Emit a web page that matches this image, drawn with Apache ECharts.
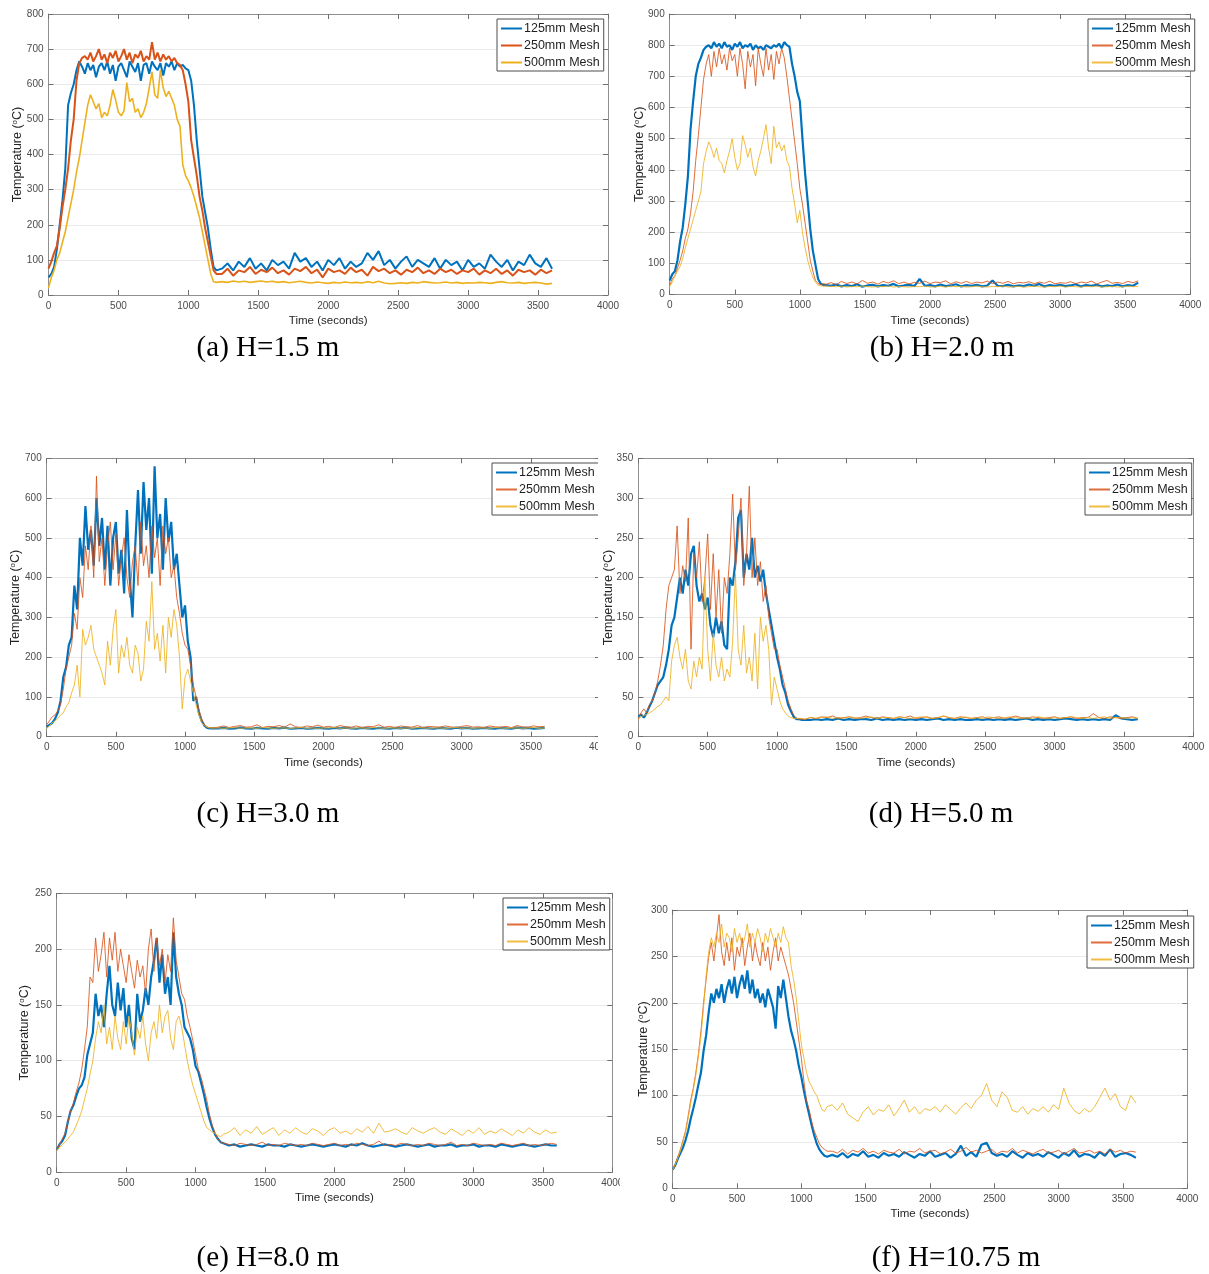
<!DOCTYPE html>
<html>
<head>
<meta charset="utf-8">
<title>Temperature histories at six heights</title>
<script src="https://cdn.jsdelivr.net/npm/echarts@6/dist/echarts.min.js"></script>
<style>
  html, body { margin: 0; padding: 0; background: #fff; }
  body { width: 1209px; height: 1274px; position: relative; overflow: hidden; }
  .panel { position: absolute; overflow: hidden; }
</style>
</head>
<body>
<div id="pa" class="panel"></div>
<div id="pb" class="panel"></div>
<div id="pc" class="panel"></div>
<div id="pd" class="panel"></div>
<div id="pe" class="panel"></div>
<div id="pf" class="panel"></div>
<script>
// ---- sample times (s): 20 s steps during the fire, 40 s steps in the cooling tail ----
const TIME_HEAD = [
  0,20,40,60,80,100,120,140,160,180,
  200,220,240,260,280,300,320,340,360,380,
  400,420,440,460,480,500,520,540,560,580,
  600,620,640,660,680,700,720,740,760,780,
  800,820,840,860,880,900,920,940,960,980,
  1000,1020,1040,1060,1080,1100,1120,1140,1160,1180,
  1200];
const TIME_TAIL = [
  1240,1280,1320,1360,1400,1440,1480,1520,1560,1600,
  1640,1680,1720,1760,1800,1840,1880,1920,1960,2000,
  2040,2080,2120,2160,2200,2240,2280,2320,2360,2400,
  2440,2480,2520,2560,2600,2640,2680,2720,2760,2800,
  2840,2880,2920,2960,3000,3040,3080,3120,3160,3200,
  3240,3280,3320,3360,3400,3440,3480,3520,3560,3600];

const SERIES_NAMES = ['125mm Mesh', '250mm Mesh', '500mm Mesh'];
const X_TICKS = { min: 0, max: 4000, step: 500 };

// ---- H = 1.5 m ----
const A_125_HEAD = [50,60,80,130,200,270,360,540,575,600,640,665,650,630,660,640,655,620,650,660,640,665,630,655,610,650,660,640,620,665,650,635,660,610,655,660,630,665,650,640,660,625,660,650,665,640,660,650,655,645,640,610,540,440,360,280,235,190,130,80,70];
const A_125_TAIL = [75,90,70,95,80,105,75,90,70,100,85,95,75,120,95,105,80,95,70,100,85,105,75,95,80,90,120,100,125,85,100,75,95,110,80,100,90,80,105,75,100,85,95,70,100,80,90,75,115,95,80,100,70,95,85,115,90,80,105,75];
const A_250_HEAD = [75,95,120,140,190,250,300,360,440,500,610,660,675,680,670,690,665,680,700,670,685,660,690,675,695,665,680,700,670,690,660,685,675,695,665,680,670,720,670,690,665,685,670,680,665,675,660,655,640,600,550,440,390,340,280,240,190,150,110,70,60];
const A_250_TAIL = [60,75,55,70,65,80,60,72,65,78,62,70,58,75,68,80,62,72,50,75,65,70,60,78,65,72,55,80,68,75,62,70,58,72,65,78,62,70,60,75,65,72,60,70,65,75,58,70,62,75,60,70,55,72,65,70,58,72,62,70];
const A_500_HEAD = [20,50,70,100,120,150,180,220,260,300,350,390,440,490,540,570,550,530,545,505,520,510,540,585,555,520,510,525,605,550,560,520,530,505,520,545,590,635,570,560,640,590,565,580,560,540,500,480,370,340,325,305,280,250,220,180,140,100,60,38,36];
const A_500_TAIL = [38,36,40,37,39,36,38,40,37,39,36,38,35,37,39,36,34,37,35,33,36,34,37,35,36,34,38,35,39,34,32,33,35,33,36,34,38,36,34,35,37,34,36,33,35,34,36,35,33,36,38,35,34,36,33,35,36,34,31,33];

// ---- H = 2.0 m ----
const B_125_HEAD = [45,65,75,110,170,215,290,380,530,620,700,740,760,785,795,800,790,810,795,805,790,810,795,800,785,805,795,810,790,800,795,805,785,800,790,795,785,800,795,790,800,795,805,790,810,800,795,740,700,650,620,500,390,300,210,140,95,50,35,30,30];
const B_125_TAIL = [28,32,26,30,27,33,25,29,31,26,30,28,34,26,29,31,27,50,28,30,26,32,27,29,33,26,30,28,31,26,29,45,28,27,31,26,29,27,32,28,34,26,30,28,31,27,29,33,26,30,28,31,26,29,27,32,26,30,28,38];
const B_250_HEAD = [30,50,60,85,110,140,180,210,260,330,430,510,600,690,740,770,700,780,730,790,740,770,720,790,750,770,700,790,740,660,780,730,770,670,790,740,700,790,720,770,690,780,740,790,760,700,630,560,490,420,340,290,230,170,110,75,45,35,32,35,33];
const B_250_TAIL = [38,32,42,35,40,34,45,36,40,33,42,37,44,35,40,34,39,36,43,35,40,38,44,34,41,36,42,35,40,37,43,35,40,36,42,34,39,37,41,35,40,36,43,34,38,36,41,35,40,37,43,34,40,45,36,39,35,42,38,44];
const B_500_HEAD = [25,40,60,75,90,115,150,180,210,240,270,300,330,420,460,490,470,440,470,430,420,390,430,460,500,440,400,420,510,480,440,470,410,380,430,460,500,545,470,420,540,470,490,460,480,430,410,340,290,230,270,200,150,110,80,55,40,30,28,27,27];
const B_500_TAIL = [26,25,27,24,26,25,27,25,24,26,25,27,24,26,25,24,26,25,27,24,25,26,24,27,25,26,24,25,27,25,24,26,25,27,24,25,26,24,25,27,25,24,26,25,27,24,26,25,24,26,25,27,24,25,26,24,25,27,25,26];

// ---- H = 3.0 m ----
const C_125_HEAD = [25,30,35,45,60,90,150,175,230,250,380,320,500,430,580,470,520,430,600,480,550,420,530,380,500,540,410,470,360,570,400,300,480,620,460,640,520,600,410,680,500,560,420,600,490,540,420,460,380,300,330,240,200,90,100,60,40,28,22,21,21];
const C_125_TAIL = [21,22,20,21,23,21,20,22,21,20,22,21,23,20,21,22,20,21,22,21,20,22,21,23,21,20,22,21,20,22,21,20,22,21,23,20,21,22,21,20,22,21,20,23,21,22,20,21,22,21,20,22,21,20,23,21,22,20,21,22];
const C_250_HEAD = [30,40,50,55,65,80,120,170,200,230,310,270,400,350,480,420,530,400,655,440,500,380,480,540,420,510,380,450,500,400,350,440,480,380,540,430,480,400,530,450,500,380,530,460,500,400,430,350,310,260,230,220,180,130,100,70,45,30,24,23,22];
const C_250_TAIL = [24,27,23,26,28,24,25,30,23,26,25,28,24,32,25,23,27,25,29,24,26,23,28,25,24,27,23,26,25,30,24,26,23,27,25,24,28,23,26,25,24,27,25,23,26,28,24,25,23,27,25,24,26,23,28,25,24,27,25,26];
const C_500_HEAD = [20,28,35,40,45,55,60,75,85,110,130,180,100,270,230,250,280,220,200,180,160,130,240,180,270,320,160,230,200,250,180,160,230,210,140,170,290,240,390,220,260,190,280,160,300,250,320,280,200,70,150,170,140,110,80,55,35,28,24,22,22];
const C_500_TAIL = [22,21,22,23,21,22,22,21,23,22,21,22,22,21,22,23,21,22,21,22,22,23,21,22,21,22,22,21,23,22,21,22,22,21,22,21,23,22,21,22,22,21,22,23,21,22,21,22,22,21,23,22,21,22,22,21,22,23,21,22];

// ---- H = 5.0 m ----
const D_125_HEAD = [25,28,24,30,38,45,55,65,70,75,90,110,140,150,175,200,180,210,190,230,240,190,170,180,160,175,140,125,150,130,145,115,110,200,190,220,275,285,200,230,210,250,200,215,195,210,180,160,140,120,100,85,65,55,40,32,25,22,22,21,21];
const D_125_TAIL = [21,22,21,22,21,23,21,22,21,22,22,21,23,21,22,21,22,21,22,21,22,21,22,23,21,22,21,22,21,21,22,21,22,21,22,21,22,21,22,23,21,22,21,22,21,22,23,22,21,22,21,22,21,22,21,27,23,22,21,22];
const D_250_HEAD = [22,30,35,30,40,45,55,70,90,115,160,190,200,210,265,180,215,195,275,110,230,200,245,170,200,255,160,230,150,210,130,200,180,230,305,210,250,300,190,230,315,200,250,190,220,170,190,150,130,110,110,90,75,60,45,35,27,23,22,22,22];
const D_250_TAIL = [24,23,25,24,26,23,24,25,23,24,26,24,23,25,24,23,25,24,26,23,24,25,23,24,26,24,23,25,24,23,24,25,23,24,25,23,24,26,24,23,25,24,23,24,25,23,24,25,23,24,24,29,24,23,25,24,23,24,25,23];
const D_500_HEAD = [22,25,27,28,30,32,35,38,40,45,50,45,95,115,125,100,85,110,70,60,95,75,100,85,200,110,70,130,90,75,100,70,85,75,120,205,110,90,140,80,100,70,130,60,150,120,140,110,40,75,60,45,35,30,26,24,23,23,23,23,22];
const D_500_TAIL = [24,23,24,25,23,24,23,25,24,23,24,25,23,24,24,23,25,24,23,24,25,24,23,24,26,24,23,24,25,23,24,23,25,24,23,24,25,24,23,24,23,25,24,23,24,23,24,25,24,23,24,23,24,25,23,24,24,23,24,23];

// ---- H = 8.0 m ----
const E_125_HEAD = [20,25,28,33,45,55,60,68,75,78,85,105,115,125,160,140,150,130,160,185,150,140,170,145,165,130,150,120,110,160,135,145,165,150,175,190,210,170,195,160,175,150,215,175,160,150,130,125,120,110,95,90,80,70,58,48,40,34,30,27,26];
const E_125_TAIL = [24,25,23,24,25,24,23,25,24,24,23,25,24,23,24,25,24,23,24,25,24,23,25,24,26,24,23,24,25,24,23,24,25,24,23,24,25,23,24,24,25,23,24,24,25,23,24,24,23,25,24,23,24,25,24,23,24,25,24,24];
const E_250_HEAD = [20,25,30,35,45,55,62,72,80,92,110,130,175,170,210,180,195,215,175,210,190,215,180,200,185,170,195,180,165,190,175,185,160,200,218,180,210,185,200,170,195,180,228,190,175,160,155,140,130,118,105,92,85,75,65,52,42,35,30,27,26];
const E_250_TAIL = [25,24,26,25,24,25,27,24,25,24,26,25,24,25,24,26,25,24,25,26,24,25,24,26,25,24,25,28,24,25,24,26,25,24,25,24,26,25,24,25,27,24,25,24,26,25,24,25,24,26,25,24,25,26,24,25,24,25,26,25];
const E_500_HEAD = [20,22,25,27,30,33,36,42,48,55,65,75,88,100,120,135,125,150,115,130,110,140,120,110,135,115,140,125,105,130,120,140,115,100,125,135,120,150,125,140,145,120,110,135,140,130,115,100,88,78,70,62,54,46,40,38,36,35,33,32,34];
const E_500_TAIL = [36,40,33,38,35,41,34,37,40,33,38,35,40,36,34,39,37,33,38,40,35,37,34,39,36,41,35,44,36,37,39,36,34,40,37,35,38,40,36,34,39,36,33,38,35,40,34,37,35,39,36,33,38,35,40,36,34,38,35,36];

// ---- H = 10.75 m ----
const F_125_HEAD = [20,25,32,38,44,52,62,75,86,98,112,125,148,165,190,210,200,215,205,220,200,215,225,210,228,205,220,230,215,235,210,225,205,215,200,210,195,215,205,195,172,218,205,225,205,185,170,160,148,132,120,105,92,80,68,57,48,42,38,35,34];
const F_125_TAIL = [36,34,38,33,37,35,40,34,36,33,38,35,37,34,39,36,33,37,35,40,34,36,38,33,37,46,35,39,34,47,49,38,35,37,34,40,36,33,38,35,37,34,39,36,33,38,35,41,34,37,36,33,39,35,42,34,37,38,36,33];
const F_250_HEAD = [20,26,34,42,52,62,78,95,108,125,145,170,200,225,250,265,245,270,295,255,240,265,245,270,235,260,250,270,240,260,275,245,265,250,240,265,245,260,235,255,270,245,260,250,240,230,215,200,180,160,140,115,95,85,72,62,55,48,44,42,40];
const F_250_TAIL = [40,38,42,37,41,39,43,38,40,37,41,39,38,42,37,40,39,43,38,40,41,37,39,42,38,40,44,39,41,38,40,42,37,40,39,43,38,41,39,37,40,42,38,39,41,37,40,43,38,39,41,38,40,37,42,39,41,38,40,39];
const F_500_HEAD = [20,26,33,40,50,60,75,92,106,122,142,165,195,230,255,270,260,275,265,285,260,275,270,255,280,265,275,260,270,285,260,275,265,280,270,255,275,265,280,270,260,275,265,282,270,265,240,225,205,180,155,140,125,115,110,104,100,92,85,83,88];
const F_500_TAIL = [90,84,92,80,76,72,82,88,79,85,83,90,78,86,95,82,88,80,86,84,88,82,90,85,80,87,92,86,95,100,113,95,88,104,98,84,82,88,80,86,83,88,82,90,85,108,92,84,80,86,82,88,98,108,95,102,88,84,100,92];

// ---- drawing ----
const COLORS = ['#0072BD', '#D95319', '#EDB120'];
const SANS = '"Liberation Sans", Arial, Helvetica, sans-serif';
const AXIS_GRAY = '#8f8f8f';

// box: [left, top, width, height] of the panel's canvas on the page
// plot: [x0, y0, x1, y1] of the axes frame on the page
const PANELS = [
  { id: 'pa', box: [0, 0, 620, 380], plot: [48.5, 14, 608, 295], yMax: 800, yStep: 100,
    legend: [497, 19], caption: '(a) H=1.5 m', cap: [268, 348], widths: [2, 2, 1.6], nameGap: 23.5,
    values: [[A_125_HEAD, A_125_TAIL], [A_250_HEAD, A_250_TAIL], [A_500_HEAD, A_500_TAIL]] },
  { id: 'pb', box: [620, 0, 589, 380], plot: [669.7, 14, 1190.3, 294.5], yMax: 900, yStep: 100,
    legend: [1088, 19], caption: '(b) H=2.0 m', cap: [942, 348], widths: [2.2, 1, 1], nameGap: 23,
    values: [[B_125_HEAD, B_125_TAIL], [B_250_HEAD, B_250_TAIL], [B_500_HEAD, B_500_TAIL]] },
  { id: 'pc', box: [0, 430, 598, 420], plot: [46.7, 458.3, 600, 736.7], yMax: 700, yStep: 100,
    legend: [492, 463], caption: '(c) H=3.0 m', cap: [268, 814], widths: [2.2, 1, 1], nameGap: 24,
    values: [[C_125_HEAD, C_125_TAIL], [C_250_HEAD, C_250_TAIL], [C_500_HEAD, C_500_TAIL]] },
  { id: 'pd', box: [598, 430, 611, 420], plot: [638.3, 458.3, 1193.3, 736.7], yMax: 350, yStep: 50,
    legend: [1085, 463], caption: '(d) H=5.0 m', cap: [941, 814], widths: [2.2, 1, 1], nameGap: 23,
    values: [[D_125_HEAD, D_125_TAIL], [D_250_HEAD, D_250_TAIL], [D_500_HEAD, D_500_TAIL]] },
  { id: 'pe', box: [0, 870, 620, 404], plot: [56.7, 893.3, 612.3, 1172.3], yMax: 250, yStep: 50,
    legend: [503, 898], caption: '(e) H=8.0 m', cap: [268, 1258], widths: [2.2, 1, 1], nameGap: 25,
    values: [[E_125_HEAD, E_125_TAIL], [E_250_HEAD, E_250_TAIL], [E_500_HEAD, E_500_TAIL]] },
  { id: 'pf', box: [620, 870, 589, 404], plot: [672.7, 910, 1187.3, 1188.3], yMax: 300, yStep: 50,
    legend: [1087, 916], caption: '(f) H=10.75 m', cap: [956, 1258], widths: [2.2, 1, 1], nameGap: 22,
    values: [[F_125_HEAD, F_125_TAIL], [F_250_HEAD, F_250_TAIL], [F_500_HEAD, F_500_TAIL]] }
];

const TIME = TIME_HEAD.concat(TIME_TAIL);

function frameAxis(extra) {
  return Object.assign({
    type: 'value',
    axisLine: { show: true, onZero: false, lineStyle: { color: AXIS_GRAY, width: 1 } },
    axisTick: { show: true, inside: true, length: 5, lineStyle: { color: '#6f6f6f', width: 1 } },
    splitLine: { show: false },
    axisLabel: { show: false }
  }, extra);
}

function drawPanel(p) {
  const [bx, by, bw, bh] = p.box;
  const el = document.getElementById(p.id);
  el.style.left = bx + 'px';
  el.style.top = by + 'px';
  el.style.width = bw + 'px';
  el.style.height = bh + 'px';
  const chart = echarts.init(el, null, { renderer: 'canvas', width: bw, height: bh });

  const [x0, y0, x1, y1] = p.plot;
  const tickLabel = { show: true, color: '#4a4a4a', fontSize: 10, fontFamily: SANS, margin: 6,
                      formatter: v => String(v) };

  const series = SERIES_NAMES.map((name, k) => {
    const vals = p.values[k][0].concat(p.values[k][1]);
    return {
      type: 'line', name: name,
      xAxisIndex: 0, yAxisIndex: 0,
      data: TIME.map((t, i) => [t, vals[i]]),
      symbol: 'none', showSymbol: false,
      lineStyle: { color: COLORS[k], width: p.widths[k], opacity: p.widths[k] < 1.5 ? 0.85 : 1 },
      itemStyle: { color: COLORS[k] },
      emphasis: { disabled: true },
      animation: false, z: 2 + k
    };
  });

  chart.setOption({
    animation: false,
    grid: { left: x0 - bx, top: y0 - by, width: x1 - x0, height: y1 - y0,
            containLabel: false, outerBoundsMode: 'none', show: false },
    xAxis: [
      frameAxis({ position: 'bottom', min: X_TICKS.min, max: X_TICKS.max, interval: X_TICKS.step,
        axisLabel: Object.assign({}, tickLabel, { showMaxLabel: true, showMinLabel: true }),
        name: 'Time (seconds)', nameLocation: 'middle', nameGap: 20, nameMoveOverlap: false,
        nameTextStyle: { color: '#262626', fontSize: 11.5, fontFamily: SANS } }),
      frameAxis({ position: 'top', min: X_TICKS.min, max: X_TICKS.max, interval: X_TICKS.step })
    ],
    yAxis: [
      frameAxis({ position: 'left', min: 0, max: p.yMax, interval: p.yStep,
        axisLabel: Object.assign({}, tickLabel, { margin: 5 }),
        splitLine: { show: true, lineStyle: { color: '#e9e9e9', width: 1 } },
        name: 'Temperature ({sup|o}C)', nameLocation: 'middle', nameGap: p.nameGap, nameMoveOverlap: false,
        nameTextStyle: { color: '#262626', fontSize: 12.5, fontFamily: SANS,
          rich: { sup: { fontSize: 8, fontFamily: SANS, color: '#262626', verticalAlign: 'top', lineHeight: 14, padding: [0, 0, 5, 0] } } } }),
      frameAxis({ position: 'right', min: 0, max: p.yMax, interval: p.yStep })
    ],
    legend: {
      orient: 'vertical', left: p.legend[0] - bx, top: p.legend[1] - by,
      padding: [3, 4, 2, 3], itemGap: 4, itemWidth: 21, itemHeight: 12,
      borderColor: '#4d4d4d', borderWidth: 1, backgroundColor: '#ffffff',
      selectedMode: false,
      itemStyle: { opacity: 0 },
      textStyle: { fontSize: 12.5, color: '#1f1f1f', fontFamily: SANS, padding: [0, 0, 0, -3] },
      data: SERIES_NAMES
    },
    graphic: [{
      type: 'text', x: p.cap[0] - bx, y: p.cap[1] - by, z: 10,
      style: { text: p.caption, font: '29px "Liberation Serif", "Times New Roman", serif',
               fill: '#000000', align: 'center', verticalAlign: 'middle' }
    }],
    series: series
  });
}

PANELS.forEach(drawPanel);
</script>
</body>
</html>
